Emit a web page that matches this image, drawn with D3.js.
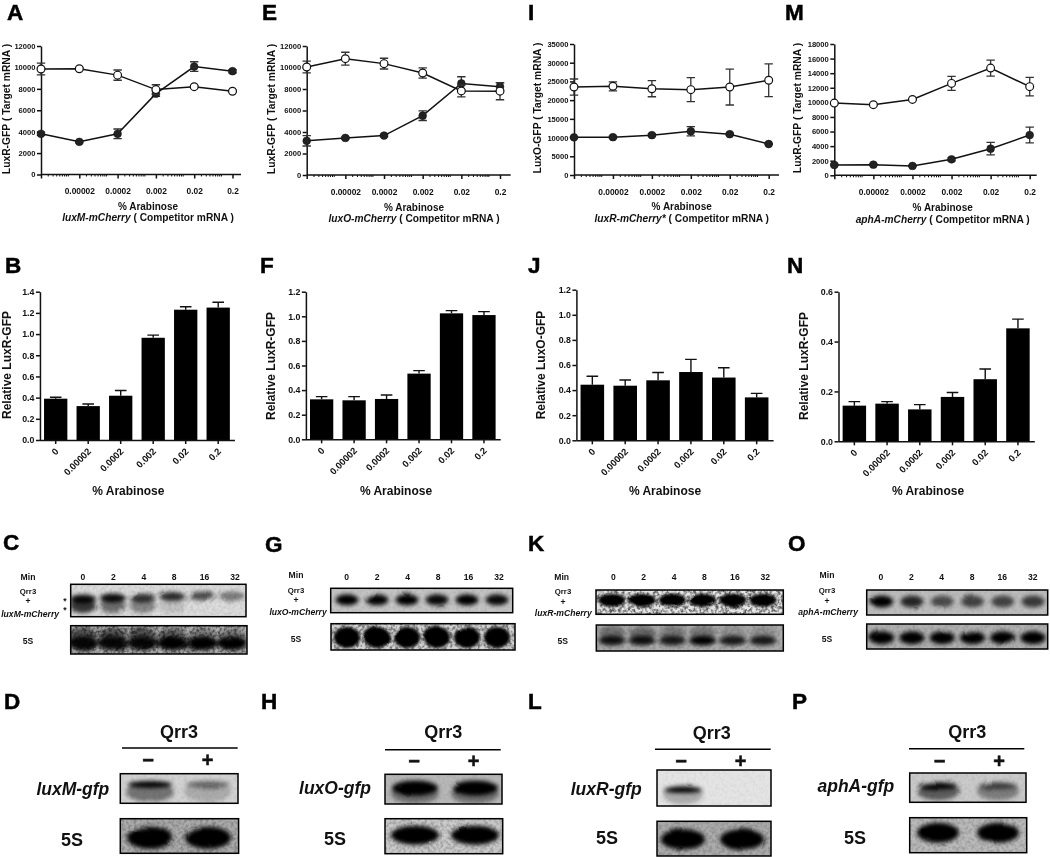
<!DOCTYPE html>
<html><head><meta charset="utf-8">
<script src="https://cdn.jsdelivr.net/npm/d3@7/dist/d3.min.js"></script>
<style>
html,body{margin:0;padding:0;background:#fff;overflow:hidden}
svg{filter:blur(.35px)}
text{font-family:"Liberation Sans",Arial,sans-serif;font-weight:bold;fill:#111}
.domain,.tick line{stroke:#111}
</style></head><body>
<script>
// ---------- data ----------
const doses=[0.000002,0.00002,0.0002,0.002,0.02,0.2];
const doseTickLabels=["","0.00002","0.0002","0.002","0.02","0.2"];
const barLabels=["0","0.00002","0.0002","0.002","0.02","0.2"];
const minuteLabels=["0","2","4","8","16","32"];

const aFilled=[3800,3050,3800,7550,10080,9650], aFilledErr=[150,100,450,250,450,150];
const aOpen=[9850,9880,9280,7930,8200,7770], aOpenErr=[550,100,480,450,100,100];
const eFilled=[3180,3450,3670,5520,8520,8220], eFilledErr=[480,100,100,450,620,350];
const eOpen=[10050,10820,10360,9490,7820,7800], eOpenErr=[550,600,500,480,550,800];
const iFilled=[10060,10100,10650,11700,10900,8280], iFilledErr=[150,300,300,1250,300,150];
const iOpen=[23500,23700,23050,22800,23500,25300], iOpenErr=[2150,1200,2150,3200,4800,4370];
const mFilled=[1420,1460,1280,2190,3650,5520], mFilledErr=[100,100,100,200,860,1080];
const mOpen=[9900,9680,10400,12600,14700,12150], mOpenErr=[100,100,100,950,1100,1270];

const bVals=[0.39,0.32,0.418,0.965,1.23,1.25], bCaps=[0.403,0.34,0.468,0.99,1.258,1.3];
const fVals=[0.325,0.317,0.328,0.534,1.024,1.01], fCaps=[0.347,0.347,0.36,0.558,1.046,1.038];
const jVals=[0.443,0.435,0.478,0.544,0.50,0.342], jCaps=[0.51,0.48,0.54,0.645,0.578,0.374];
const nVals=[0.143,0.151,0.128,0.178,0.249,0.453], nCaps=[0.159,0.159,0.147,0.196,0.29,0.49];

// blot band darkness per lane
const cUpper=[.95,.95,.75,.8,.65,.45], cLower=[.75,.5,.4,.12,0,0], c5S=[.95,.95,.95,1,1,1], c5Shaze=[.55,.55,.55,.45,.3,.3];
const gTop=[1,.98,1,.95,1,.95], g5S=[1,1,1,1,1,1];
const kTop=[1,1,1,1,1,1], k5S=[.9,.9,.85,1,.85,.85], k5Shaze=[.35,.4,.3,.3,.15,.15];
const oTop=[1,.8,.6,.65,.65,.7], o5S=[1,1,1,1,1,1];
const dUpper=[1,.45], dLower=[.45,.18], d5S=[1,1];
const hUpper=[1,1], hLower=[.4,.4], h5S=[1,1];
const lUpper=[1,0], lLower=[.25,0], l5S=[1,1];
const pUpper=[1,.55], pLower=[.55,.38], p5S=[1,1];

// ---------- layout tables ----------
const linePanels=[
 {letter:"A",lx:7,xl:[41,79.3,232.5,241],y0:174.5,y1:46,ymax:12000,step:2000,filled:aFilled,fe:aFilledErr,open:aOpen,oe:aOpenErr,title:"LuxR-GFP ( Target mRNA )",tx:9.5,ty:109,cx:148,b1:210,b2:221,it:"luxM-mCherry",rest:" ( Competitor mRNA )"},
 {letter:"E",lx:262,xl:[306.7,345.4,500,510.7],y0:175,y1:46,ymax:12000,step:2000,filled:eFilled,fe:eFilledErr,open:eOpen,oe:eOpenErr,title:"LuxR-GFP ( Target mRNA )",tx:275,ty:109,cx:414,b1:210.5,b2:221.5,it:"luxO-mCherry",rest:" ( Competitor mRNA )"},
 {letter:"I",lx:528,xl:[574,613,768.7,779],y0:175,y1:44,ymax:35000,step:5000,filled:iFilled,fe:iFilledErr,open:iOpen,oe:iOpenErr,title:"LuxO-GFP ( Target mRNA )",tx:541,ty:108,cx:681.7,b1:209.5,b2:221.5,it:"luxR-mCherry*",rest:" ( Competitor mRNA )"},
 {letter:"M",lx:785,xl:[834.3,873.7,1029.7,1036.7],y0:175.3,y1:44,ymax:18000,step:2000,filled:mFilled,fe:mFilledErr,open:mOpen,oe:mOpenErr,title:"LuxR-GFP ( Target mRNA )",tx:801,ty:108,cx:942.7,b1:211,b2:222.5,it:"aphA-mCherry",rest:" ( Competitor mRNA )"}
];
const barPanels=[
 {letter:"B",lx:5,xr:[39.45,234.45],y0:440,y1:291.7,ymax:1.4,step:0.2,vals:bVals,caps:bCaps,title:"Relative LuxR-GFP",tx:11,ty:365,cx:128.3},
 {letter:"F",lx:260,xr:[305.4,500.2],y0:439.3,y1:291.7,ymax:1.2,step:0.2,vals:fVals,caps:fCaps,title:"Relative LuxR-GFP",tx:274.5,ty:366,cx:396},
 {letter:"J",lx:528,xr:[575.9,773.1],y0:440.3,y1:289.7,ymax:1.2,step:0.2,vals:jVals,caps:jCaps,title:"Relative LuxO-GFP",tx:545,ty:365,cx:665},
 {letter:"N",lx:787,xr:[838,1034.3],y0:441.3,y1:291.7,ymax:0.6,step:0.2,vals:nVals,caps:nCaps,title:"Relative LuxR-GFP",tx:808,ty:366,cx:928}
];
const timePanels=[
 {letter:"C",lx:3,ly:548,labX:[83,235],lanes:[83,232],minX:28,minY:580,qx:28,qy:594,py:604,name:"luxM-mCherry",nx:59,ny:616.7,sx:28,sy:644,stars:[[65,604],[65,613]],
  top:{x:70.7,y:584.3,w:175.3,h:32.4,bg:"#dcdcdc",noise:.08,blur:1.6,bands:[{v:cLower,yf:.66,rx:13,ry:7.5},{v:cUpper,yf:[.45,.42,.42,.38,.36,.36],rx:13,ry:4.5}]},
  s5:{x:70.7,y:625.7,w:176.3,h:28.3,bg:"#b4b4b4",noise:.5,blur:1.5,bands:[{v:c5Shaze,yf:.35,rx:14,ry:8},{v:c5S,yf:.62,rx:15,ry:7}]}},
 {letter:"G",lx:265,ly:550,labX:[346.7,499],lanes:[347,497],minX:296,minY:578,qx:296,qy:592.7,py:603,name:"luxO-mCherry",nx:326.7,ny:614.7,sx:296,sy:642,stars:[],
  top:{x:330.7,y:588.3,w:182,h:24.4,bg:"#c4c4c4",noise:.06,blur:1.5,bands:[{v:gTop,yf:.47,rx:11.5,ry:5.5}]},
  s5:{x:331,y:623.7,w:184,h:26.3,bg:"#d4d4d4",noise:.45,blur:1.2,bands:[{v:g5S,yf:.52,rx:13,ry:10.5}]}},
 {letter:"K",lx:528,ly:549,labX:[613.3,765.3],lanes:[612,763],minX:561.7,minY:580,qx:563,qy:594,py:605,name:"luxR-mCherry",nx:591.7,ny:616.3,sx:562.7,sy:643.7,stars:[],
  top:{x:596,y:590,w:187.3,h:24.3,bg:"#e6e6e6",noise:.6,blur:1.2,bands:[{v:kTop,yf:.42,rx:13.5,ry:6.5}]},
  s5:{x:596.3,y:625,w:187,h:26,bg:"#ababab",noise:.12,blur:1.6,bands:[{v:k5Shaze,yf:.3,rx:13,ry:7},{v:k5S,yf:.6,rx:13.5,ry:4.8}]}},
 {letter:"O",lx:788,ly:549,labX:[881,1032.7],lanes:[881.7,1033],minX:827,minY:578,qx:827,qy:593,py:604,name:"aphA-mCherry",nx:858,ny:615,sx:827,sy:642,stars:[],
  top:{x:866.7,y:590,w:181,h:25,bg:"#bcbcbc",noise:.05,blur:1.8,bands:[{v:oTop,yf:.46,rx:11.5,ry:6}]},
  s5:{x:866.7,y:624,w:181,h:25,bg:"#b0b0b0",noise:.1,blur:1.5,bands:[{v:o5S,yf:.55,rx:12.5,ry:6.5}]}}
];
const gelPanels=[
 {letter:"D",lx:4,qx:179,qy:738.3,line:[122,237.7,748],lanes:[148,207.7],signY:760.7,name:"luxM-gfp",nx:109.3,ny:795,sx:72,sy:845.7,bandX:[150,208],
  top:{x:120.3,y:773.7,w:117.7,h:29.6,bg:"#d2d2d2",noise:.05,blur:1.6,bands:[{v:dLower,yf:.62,rx:24,ry:10},{v:dUpper,yf:.36,rx:22,ry:3.4}]},
  s5:{x:120.3,y:818.7,w:118.3,h:34.6,bg:"#ababab",noise:.2,blur:1.5,bands:[{v:d5S,yf:.55,rx:23,ry:11}]}},
 {letter:"H",lx:261,qx:443.3,qy:738.3,line:[385,500.7,749.7],lanes:[414,473.7],signY:761,name:"luxO-gfp",nx:371,ny:794.3,sx:335,sy:845,bandX:[415,475],
  top:{x:385,y:774.3,w:117,h:29.7,bg:"#b8b8b8",noise:.05,blur:1.6,bands:[{v:hLower,yf:.65,rx:24,ry:10},{v:hUpper,yf:.46,rx:23,ry:7.5}]},
  s5:{x:385,y:818.7,w:117.7,h:35,bg:"#cacaca",noise:.2,blur:1.6,bands:[{v:h5S,yf:.47,rx:24,ry:9.5}]}},
 {letter:"L",lx:528,qx:711.7,qy:739,line:[655,770.7,749.3],lanes:[681,740.7],signY:761.3,name:"luxR-gfp",nx:641.7,ny:795.3,sx:607,sy:843.7,bandX:[683,742],
  top:{x:657,y:770,w:114,h:36,bg:"#e4e4e4",noise:.03,blur:1.5,bands:[{v:lLower,yf:.68,rx:20,ry:10},{v:lUpper,yf:.55,rx:19,ry:3}]},
  s5:{x:657,y:821.3,w:114,h:34.7,bg:"#ababab",noise:.15,blur:1.6,bands:[{v:l5S,yf:.52,rx:22,ry:10}]}},
 {letter:"P",lx:792,qx:967.3,qy:738.3,line:[909,1024.3,748.7],lanes:[939.7,999],signY:761,name:"aphA-gfp",nx:894.3,ny:791.7,sx:855,sy:843.7,bandX:[938,998],
  top:{x:909.7,y:773,w:116.3,h:29.3,bg:"#cacaca",noise:.05,blur:1.6,bands:[{v:pLower,yf:.62,rx:21,ry:9},{v:pUpper,yf:.44,rx:19,ry:3.4}]},
  s5:{x:909.7,y:817.7,w:117,h:35,bg:"#bababa",noise:.15,blur:1.6,bands:[{v:p5S,yf:.43,rx:21,ry:10}]}}
];

// ---------- drawing ----------
const svg=d3.select("body").append("svg").attr("width",1050).attr("height",857).style("display","block");
const defs=svg.append("defs");

[1.2,1.5,1.6,1.8].forEach(b=>{
  const f=defs.append("filter").attr("id","blur"+String(b).replace(".","_")).attr("filterUnits","userSpaceOnUse")
    .attr("x",0).attr("y",0).attr("width",1050).attr("height",857);
  f.append("feGaussianBlur").attr("stdDeviation",b*1.25).attr("result","bl");
  f.append("feTurbulence").attr("type","fractalNoise").attr("baseFrequency",.05).attr("numOctaves",1).attr("seed",4).attr("result","tb");
  f.append("feDisplacementMap").attr("in","bl").attr("in2","tb").attr("scale",3);
});
const nf=defs.append("filter").attr("id","grain").attr("filterUnits","userSpaceOnUse").attr("x",0).attr("y",0).attr("width",1050).attr("height",857);
nf.append("feTurbulence").attr("type","fractalNoise").attr("baseFrequency",.32).attr("numOctaves",2).attr("seed",9);
nf.append("feColorMatrix").attr("type","matrix").attr("values","0 0 0 0 0  0 0 0 0 0  0 0 0 0 0  3 0 0 0 -1.2");
nf.append("feGaussianBlur").attr("stdDeviation",.6);

function letter(t,x,y){svg.append("text").attr("x",x).attr("y",y+1.5).attr("font-size",22.5).attr("stroke","#000").attr("stroke-width",.5).style("fill","#000").text(t);}

function styleAxis(g,w){g.selectAll(".domain,.tick line").attr("stroke-width",w).attr("stroke","#111");}

function minorDoses(){ // log-axis minor tick positions: integer multiples of each decade
  const out=[];
  for(let e=-6;e<=-1;e++)for(let k=1;k<=9;k++){const v=k*Math.pow(10,e);if(v>=0.000002&&v<=0.25&&!doses.some(d=>Math.abs(d-v)<1e-9))out.push(v);}
  return out;
}

linePanels.forEach(p=>{
  letter(p.letter,p.lx,18);
  const g=svg.append("g");
  const x=d3.scaleLog().domain([doses[0],doses[5]]).range([p.xl[0],p.xl[2]]);
  const y=d3.scaleLinear().domain([0,p.ymax]).range([p.y0,p.y1]);
  const xEnd=p.xl[3];
  const gx=g.append("g").attr("transform",`translate(0,${p.y0})`);
  gx.append("g").call(d3.axisBottom(x).tickValues(minorDoses()).tickFormat("").tickSize(2).tickSizeOuter(0)).call(s=>s.select(".domain").remove()).call(styleAxis,1);
  const maj=gx.append("g").call(d3.axisBottom(x).tickValues(doses).tickFormat((d,i)=>doseTickLabels[i]).tickSize(4).tickSizeOuter(0).tickPadding(10));
  maj.select(".domain").attr("d",`M${p.xl[0]},0H${xEnd}`);
  styleAxis(maj,1.5);
  maj.selectAll("text").attr("font-size",8.4).style("font-family",'"Liberation Sans"').style("font-weight","bold");
  const ty=d3.range(0,p.ymax+1,p.step);
  const ya=g.append("g").attr("transform",`translate(${p.xl[0]},0)`).call(d3.axisLeft(y).tickValues(ty).tickSize(4).tickSizeOuter(0).tickPadding(1.5).tickFormat(d3.format("d")));
  styleAxis(ya,1.5);
  ya.selectAll("text").attr("font-size",7.6).style("font-family",'"Liberation Sans"').style("font-weight","bold");
  g.append("text").attr("transform",`translate(${p.tx},${p.ty}) rotate(-90)`).attr("text-anchor","middle").attr("font-size",10.3).text(p.title);
  g.append("text").attr("x",p.cx).attr("y",p.b1).attr("text-anchor","middle").attr("font-size",10).text("% Arabinose");
  const t2=g.append("text").attr("x",p.cx).attr("y",p.b2).attr("text-anchor","middle").attr("font-size",10.2);
  t2.append("tspan").attr("font-style","italic").text(p.it);
  t2.append("tspan").text(p.rest);

  const line=d3.line().x((d,i)=>x(doses[i])).y(d=>y(d));
  [[p.filled,p.fe,"#222"],[p.open,p.oe,"#fff"]].forEach(([vals,errs,fill])=>{
    const s=g.append("g");
    const eb=s.selectAll("g").data(vals).join("g");
    const cw=4.2;
    eb.append("path").attr("fill","none").attr("stroke","#333").attr("stroke-width",1.3)
      .attr("d",(d,i)=>{const X=x(doses[i]),a=y(d+errs[i]),b=y(d-errs[i]);return `M${X-cw},${a}H${X+cw}M${X},${a}V${b}M${X-cw},${b}H${X+cw}`;});
    s.append("path").datum(vals).attr("fill","none").attr("stroke","#111").attr("stroke-width",1.5).attr("d",line);
    s.selectAll("circle").data(vals).join("circle").attr("cx",(d,i)=>x(doses[i])).attr("cy",d=>y(d))
      .attr("r",fill==="#fff"?3.9:3.9).attr("fill",fill).attr("stroke","#111").attr("stroke-width",fill==="#fff"?1.2:.5);
  });
});

barPanels.forEach(p=>{
  letter(p.letter,p.lx,271);
  const g=svg.append("g");
  const x=d3.scaleBand().domain(barLabels).range(p.xr).paddingInner(.283).paddingOuter(.1415);
  const y=d3.scaleLinear().domain([0,p.ymax]).range([p.y0,p.y1]);
  g.selectAll("rect").data(p.vals).join("rect").attr("x",(d,i)=>x(barLabels[i])).attr("width",x.bandwidth())
    .attr("y",d=>y(d)).attr("height",d=>p.y0-y(d)).attr("fill","#000");
  const cw=5.8;
  g.append("g").selectAll("path").data(p.caps).join("path").attr("fill","none").attr("stroke","#111").attr("stroke-width",1.4)
    .attr("d",(d,i)=>{const X=x(barLabels[i])+x.bandwidth()/2;return `M${X-cw},${y(d)}H${X+cw}M${X},${y(d)}V${y(p.vals[i])}`;});
  const xa=g.append("g").attr("transform",`translate(0,${p.y0})`).call(d3.axisBottom(x).tickSize(4).tickSizeOuter(0));
  styleAxis(xa,1.5);
  xa.selectAll("text").attr("font-size",9.4).attr("text-anchor","end").attr("dy",0).attr("y",0)
    .attr("transform","translate(3.5,12) rotate(-45)").style("font-family",'"Liberation Sans"').style("font-weight","bold");
  const ya=g.append("g").attr("transform",`translate(${p.xr[0]+.5},0)`).call(d3.axisLeft(y).tickValues(d3.range(0,p.ymax+.001,p.step)).tickSize(4).tickSizeOuter(0).tickPadding(1.5).tickFormat(d3.format(".1f")));
  styleAxis(ya,1.5);
  ya.selectAll("text").attr("font-size",8.8).style("font-family",'"Liberation Sans"').style("font-weight","bold");
  g.append("text").attr("transform",`translate(${p.tx},${p.ty}) rotate(-90)`).attr("text-anchor","middle").attr("font-size",12).text(p.title);
  g.append("text").attr("x",p.cx).attr("y",495).attr("text-anchor","middle").attr("font-size",12).text("% Arabinose");
});

let clipN=0;
function blot(b,laneX){
  const g=svg.append("g");
  const id="clip"+(clipN++);
  defs.append("clipPath").attr("id",id).append("rect").attr("x",b.x).attr("y",b.y).attr("width",b.w).attr("height",b.h);
  const inner=g.append("g").attr("clip-path",`url(#${id})`);
  inner.append("rect").attr("x",b.x).attr("y",b.y).attr("width",b.w).attr("height",b.h).attr("fill",b.bg);
  const bands=inner.append("g").attr("filter",`url(#blur${String(b.blur).replace(".","_")})`);
  b.bands.forEach(band=>{
    bands.append("g").selectAll("ellipse").data(band.v).join("ellipse")
      .attr("cx",(d,i)=>laneX(i)).attr("cy",(d,i)=>b.y+b.h*(Array.isArray(band.yf)?band.yf[i]:band.yf))
      .attr("rx",band.rx).attr("ry",band.ry).attr("fill","#000").attr("fill-opacity",d=>d);
  });
  inner.append("rect").attr("x",b.x).attr("y",b.y).attr("width",b.w).attr("height",b.h).attr("fill","#000")
    .attr("filter","url(#grain)").attr("opacity",b.noise);
  g.append("rect").attr("x",b.x).attr("y",b.y).attr("width",b.w).attr("height",b.h).attr("fill","none").attr("stroke","#000").attr("stroke-width",1.5);
}

timePanels.forEach(p=>{
  letter(p.letter,p.lx,p.ly);
  const lab=d3.scalePoint().domain(minuteLabels).range(p.labX);
  const lane=d3.scalePoint().domain(minuteLabels).range(p.lanes);
  const fs=8.6;
  const T=(s,x,y,a,it,f)=>svg.append("text").attr("x",x).attr("y",y).attr("text-anchor",a||"middle").attr("font-size",f||fs).attr("font-style",it?"italic":null).text(s);
  T("Min",p.minX,p.minY);
  minuteLabels.forEach(m=>T(m,lab(m),580));
  T("Qrr3",p.qx,p.qy,"middle",false,7.8);T("+",p.qx,p.py);T(p.name,p.nx,p.ny,"end",true);T("5S",p.sx,p.sy);
  p.stars.forEach(s=>T("*",s[0],s[1]));
  blot(p.top,i=>lane(minuteLabels[i]));
  blot(p.s5,i=>lane(minuteLabels[i]));
});

gelPanels.forEach(p=>{
  letter(p.letter,p.lx,707);
  svg.append("text").attr("x",p.qx).attr("y",p.qy).attr("text-anchor","middle").attr("font-size",18).text("Qrr3");
  svg.append("line").attr("x1",p.line[0]).attr("x2",p.line[1]).attr("y1",p.line[2]).attr("y2",p.line[2]).attr("stroke","#000").attr("stroke-width",1.5);
  const sx=d3.scalePoint().domain(["\u2212","+"]).range(p.lanes);
  svg.selectAll(null).data(["\u2212","+"]).enter().append("text").attr("x",d=>sx(d)).attr("y",p.signY+6.5)
    .attr("text-anchor","middle").attr("font-size",20).attr("stroke","#111").attr("stroke-width",.5).text(d=>d);
  svg.append("text").attr("x",p.nx).attr("y",p.ny).attr("text-anchor","end").attr("font-size",17.5).attr("font-style","italic").text(p.name);
  svg.append("text").attr("x",p.sx).attr("y",p.sy).attr("text-anchor","middle").attr("font-size",18).text("5S");
  const band=d3.scalePoint().domain([0,1]).range(p.bandX);
  blot(p.top,band);blot(p.s5,band);
});
</script>
</body></html>
